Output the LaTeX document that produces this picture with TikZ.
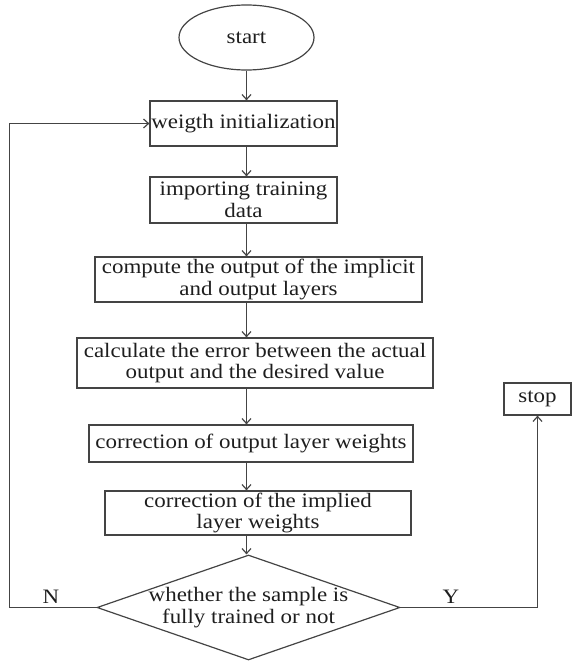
\documentclass[tikz,border=0pt]{standalone}
\usepackage{fontspec}
\setmainfont{Liberation Serif}[FakeStretch=1.12]
\usetikzlibrary{shapes.geometric,arrows.meta}
\definecolor{ln}{HTML}{444444}
\definecolor{tx}{HTML}{1E1E1E}
\begin{document}
\begin{tikzpicture}[x=1pt,y=-1pt,
  every node/.style={text=tx,font=\fontsize{20.5}{21.5}\selectfont},
  box/.style={draw=ln,line width=1.2pt,rectangle,inner sep=0pt,align=center},
  arr/.style={draw=ln,line width=1.2pt,-{Straight Barb[length=5pt,width=9pt]}}]
\useasboundingbox (0,0) rectangle (574,663);
\node[box,ellipse,minimum width=135,minimum height=65] (start) at (246.5,37.5) {start};
\node[box,minimum width=187,minimum height=45] (w) at (243.5,123.5) {weigth initialization};
\node[box,minimum width=187,minimum height=46] (imp) at (243.5,200) {importing training\\data};
\node[box,minimum width=327,minimum height=45] (comp) at (258.5,279.5) {compute the output of the implicit\\and output layers};
\node[box,minimum width=356,minimum height=50] (calc) at (255,363) {calculate the error between the actual\\output and the desired value};
\node[box,minimum width=324,minimum height=37] (cor1) at (251,443.5) {correction of output layer weights};
\node[box,minimum width=306,minimum height=44] (cor2) at (258,513) {correction of the implied\\layer weights};
\node[box,diamond,minimum width=303,minimum height=105] (dia) at (248.5,607.5) {};
\node[align=center,inner sep=0pt] (diatext) at (248.5,607.5) {whether the sample is\\fully trained or not};
\node[box,minimum width=67,minimum height=32] (stop) at (537.5,399) {stop};
\coordinate (lx) at (9.5,0);
\node[inner sep=0pt] (N) at (51,597) {N};
\node[inner sep=0pt] (Y) at (451,597) {Y};
\path[arr] (start.south) -- (start.south |- w.north);
\path[arr] (w.south -| start) -- (imp.north -| start);
\path[arr] (imp.south -| start) -- (comp.north -| start);
\path[arr] (comp.south -| start) -- (calc.north -| start);
\path[arr] (calc.south -| start) -- (cor1.north -| start);
\path[arr] (cor1.south -| start) -- (cor2.north -| start);
\path[arr] (cor2.south -| start) -- (dia.north -| start);
\path[arr] (dia.west) -- (lx |- dia.west) -- (lx |- w.west) -- (w.west);
\path[arr] (dia.east) -| (stop.south);
\end{tikzpicture}
\end{document}
